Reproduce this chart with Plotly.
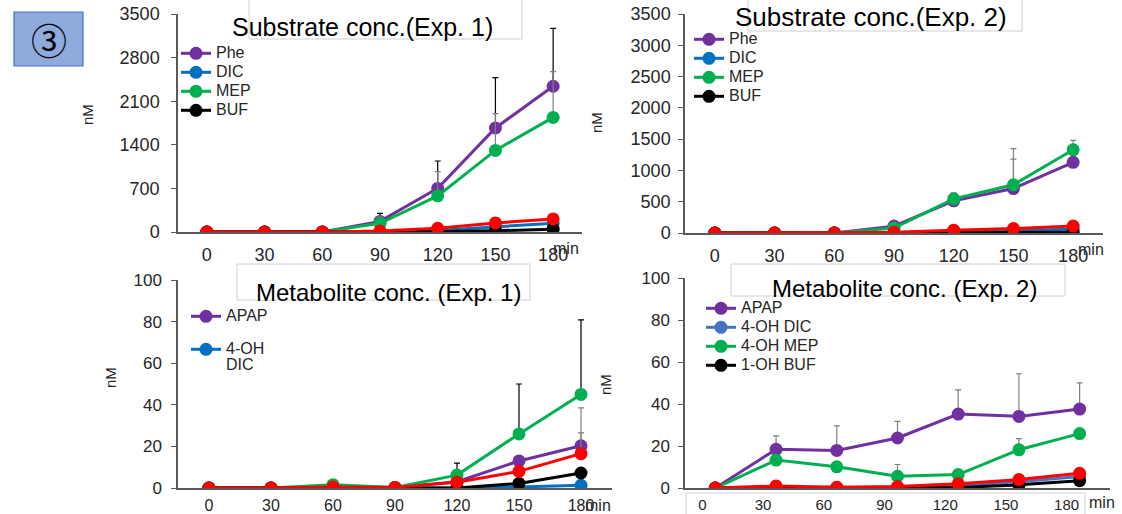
import plotly.graph_objects as go

W, H = 1122, 514

# ---------------- data ----------------
times = [0, 30, 60, 90, 120, 150, 180]
time_labels = ["0", "30", "60", "90", "120", "150", "180"]

# Substrate conc. (Exp. 1)
phe1 = [0, 0, 0, 170, 700, 1670, 2340]
dic1 = [0, 0, 0, 5, 25, 80, 140]
mep1 = [0, 0, 0, 140, 580, 1310, 1840]
buf1 = [0, 0, 0, 0, 8, 20, 45]
red1 = [0, 0, 0, 15, 60, 145, 210]
phe1_err = [0, 0, 0, 130, 440, 810, 930]
mep1_err = [0, 0, 0, 100, 390, 590, 735]

# Substrate conc. (Exp. 2)
phe2 = [0, 0, 0, 110, 515, 710, 1130]
dic2 = [0, 0, 0, 5, 20, 40, 60]
mep2 = [0, 0, 0, 80, 545, 770, 1330]
buf2 = [0, 0, 0, 0, 5, 10, 10]
red2 = [0, 0, 0, 10, 45, 70, 110]
phe2_err = [0, 0, 0, 0, 120, 470, 0]
mep2_err = [0, 0, 0, 0, 95, 580, 150]

# Metabolite conc. (Exp. 1)
apap1 = [0, 0, 0.5, 0.3, 3, 13, 20.3]
ohdic1 = [0, 0, 0, 0, 0, 0.5, 1.3]
ohmep1 = [0, 0, 1.6, 0.3, 6.2, 26, 45]
ohbuf1 = [0, 0, 0, 0, 0, 2.2, 7.2]
red3 = [0, 0, 0.5, 0.3, 2.8, 8, 16.5]
ohmep1_err = [0, 0, 0, 0, 5.8, 24, 35.8]
apap1_err = [0, 0, 0, 0, 0, 0, 18.2]
red3_err = [0, 0, 0, 0, 0, 0, 10]

# Metabolite conc. (Exp. 2)
apap2 = [0, 18.4, 17.9, 23.8, 35.2, 34.1, 37.6]
ohdic2 = [0, 0.3, 0.2, 0.4, 1, 3, 5.5]
ohmep2 = [0, 13.3, 10.1, 5.6, 6.4, 18.2, 25.9]
ohbuf2 = [0, 0, 0, 0, 0.2, 1.5, 3.5]
red4 = [0, 1, 0.3, 0.7, 2, 4, 7]
apap2_err = [0, 6.4, 11.7, 7.9, 11.5, 20.3, 12.5]
ohmep2_err = [0, 0, 0, 5.6, 0, 5.3, 0]

titles = ["Substrate conc.(Exp. 1)", "Substrate conc.(Exp. 2)",
          "Metabolite conc. (Exp. 1)", "Metabolite conc. (Exp. 2)"]

PURPLE = "#7030a0"
BLUE = "#0070c0"
BLUE2 = "#4472c4"
GREEN = "#00b050"
BLACK = "#000000"
RED = "#ff0000"
GRAY = "#808080"
FONT = "Liberation Sans, Arial, sans-serif"
AX = "#595959"


def px(x):
    return x / W


def py(y):
    return 1 - y / H


def big(t):
    return "<br>".join('<span style="font-size:16px">%s</span>' % s for s in t.split("\n"))


fig = go.Figure()


def add(x_ax, y_ax, leg, name, y, color, err=None, errcolor=GRAY, show=True, group=None):
    kw = {}
    if err is not None:
        kw["error_y"] = dict(type="data", array=err, arrayminus=[0] * len(err),
                             symmetric=False, color=errcolor, thickness=1.2, width=3)
    if group is not None:
        kw["legendgroup"] = group
    fig.add_trace(go.Scatter(
        x=times, y=y, name=big(name), mode="lines+markers",
        line=dict(color=color, width=3),
        marker=dict(color=color, size=13),
        xaxis=x_ax, yaxis=y_ax, legend=leg, showlegend=show, **kw))


# panel 1
add("x", "y", "legend", "Phe", phe1, PURPLE, phe1_err, BLACK)
add("x", "y", "legend", "DIC", dic1, BLUE)
add("x", "y", "legend", "MEP", mep1, GREEN, mep1_err, GRAY)
add("x", "y", "legend", "BUF", buf1, BLACK)
add("x", "y", "legend", "red", red1, RED, show=False)
# panel 2
add("x2", "y2", "legend2", "Phe", phe2, PURPLE, phe2_err, GRAY)
add("x2", "y2", "legend2", "DIC", dic2, BLUE)
add("x2", "y2", "legend2", "MEP", mep2, GREEN, mep2_err, GRAY)
add("x2", "y2", "legend2", "BUF", buf2, BLACK)
add("x2", "y2", "legend2", "red", red2, RED, show=False)
# panel 3
add("x3", "y3", "legend3", "APAP", apap1, PURPLE, apap1_err, GRAY, group="a")
add("x3", "y3", "legend3", "4-OH\nDIC", ohdic1, BLUE, group="b")
add("x3", "y3", "legend3", "4-OH MEP", ohmep1, GREEN, ohmep1_err, BLACK, show=False)
add("x3", "y3", "legend3", "1-OH BUF", ohbuf1, BLACK, show=False)
add("x3", "y3", "legend3", "red", red3, RED, red3_err, GRAY, show=False)
# panel 4
add("x4", "y4", "legend4", "APAP", apap2, PURPLE, apap2_err, GRAY)
add("x4", "y4", "legend4", "4-OH DIC", ohdic2, BLUE2)
add("x4", "y4", "legend4", "4-OH MEP", ohmep2, GREEN, ohmep2_err, GRAY)
add("x4", "y4", "legend4", "1-OH BUF", ohbuf2, BLACK)
add("x4", "y4", "legend4", "red", red4, RED, show=False)

# axes geometry (pixels)
panels = [
    dict(xl=178, xr=582, yt=14, yb=232, ymax=3500, dtick=700, fs=18, soy=8, sox=6, shx=0, xfs=18),
    dict(xl=685, xr=1103, yt=14, yb=233, ymax=3500, dtick=500, fs=18, soy=4, sox=6, shx=0, xfs=18),
    dict(xl=178, xr=612, yt=280, yb=488, ymax=100, dtick=20, fs=17, soy=6, sox=2, shx=0, xfs=16),
    dict(xl=685, xr=1110, yt=278, yb=488, ymax=100, dtick=20, fs=17, soy=5, sox=2, shx=-13, xfs=15),
]

lay = {}
for i, p in enumerate(panels):
    s = "" if i == 0 else str(i + 1)
    lay["xaxis" + s] = dict(
        domain=[px(p["xl"]), px(p["xr"])], range=[-15, 195], anchor="y" + s,
        tickvals=times, ticktext=time_labels, ticks="", showgrid=False, zeroline=False,
        showline=True, linecolor=AX, linewidth=1.5, automargin=False,
        tickfont=dict(family=FONT, size=p["xfs"], color="#262626"),
        ticklabelstandoff=p["sox"], ticklabelshift=p["shx"], fixedrange=True)
    lay["yaxis" + s] = dict(
        domain=[py(p["yb"]), py(p["yt"])], range=[0, p["ymax"]], anchor="x" + s,
        dtick=p["dtick"], tick0=0, ticks="outside", ticklen=5, tickcolor=AX,
        showgrid=False, zeroline=False, showline=True, linecolor=AX, linewidth=1.5,
        automargin=False,
        tickfont=dict(family=FONT, size=p["fs"], color="#262626"),
        ticklabelstandoff=p["soy"], fixedrange=True)

legcommon = dict(bgcolor="rgba(0,0,0,0)", font=dict(family=FONT, size=12, color="#262626"),
                 xanchor="left", yanchor="top", itemwidth=30,
                 valign="top", borderwidth=0)
lay["legend"] = dict(x=px(176), y=py(39), tracegroupgap=0, **legcommon)
lay["legend2"] = dict(x=px(689), y=py(25), tracegroupgap=0, **legcommon)
lay["legend3"] = dict(x=px(186), y=py(302), tracegroupgap=14, **legcommon)
lay["legend4"] = dict(x=px(701), y=py(294), tracegroupgap=0, **legcommon)

shapes = [
    dict(type="rect", xref="paper", yref="paper", x0=px(14), x1=px(83), y0=py(66), y1=py(12),
         fillcolor="#8faadc", line=dict(color="#4472c4", width=1.2), layer="above"),
    dict(type="rect", xref="paper", yref="paper", x0=px(249), x1=px(522), y0=py(39), y1=py(-5),
         fillcolor="white", line=dict(color="#d0d0d0", width=1), layer="below"),
    dict(type="rect", xref="paper", yref="paper", x0=px(748), x1=px(1022), y0=py(31), y1=py(-5),
         fillcolor="white", line=dict(color="#d0d0d0", width=1), layer="below"),
    dict(type="rect", xref="paper", yref="paper", x0=px(237), x1=px(530), y0=py(300), y1=py(264),
         fillcolor="white", line=dict(color="#d0d0d0", width=1), layer="below"),
    dict(type="rect", xref="paper", yref="paper", x0=px(731), x1=px(1065), y0=py(296), y1=py(264),
         fillcolor="white", line=dict(color="#d0d0d0", width=1), layer="below"),
    dict(type="rect", xref="paper", yref="paper", x0=px(686), x1=px(1085), y0=py(520), y1=py(493),
         fillcolor="white", line=dict(color="#d0d0d0", width=1), layer="below"),
]

ann = []
title_pos = [(362, 27, 25), (871, 17, 26), (388, 292, 24), (904, 288, 24)]
for t, (x, y, fs) in zip(titles, title_pos):
    ann.append(dict(text=t, x=px(x), y=py(y), xref="paper", yref="paper", showarrow=False,
                    xanchor="center", yanchor="middle",
                    font=dict(family=FONT, size=fs, color="#000000")))
for (x, y) in [(88, 115), (596, 123), (110, 378), (605, 385)]:
    ann.append(dict(text="nM", x=px(x), y=py(y), xref="paper", yref="paper", showarrow=False,
                    textangle=-90, xanchor="center", yanchor="middle",
                    font=dict(family=FONT, size=15, color="#262626")))
for (x, y) in [(566, 248), (1091, 249), (598, 505), (1102, 502)]:
    ann.append(dict(text="min", x=px(x), y=py(y), xref="paper", yref="paper", showarrow=False,
                    xanchor="center", yanchor="middle",
                    font=dict(family=FONT, size=16, color="#262626")))
ann.append(dict(text="③", x=px(48.5), y=py(39), xref="paper", yref="paper", showarrow=False,
                xanchor="center", yanchor="middle",
                font=dict(family="Noto Sans CJK JP", size=36, color="#000000")))

fig.update_layout(
    width=W, height=H, margin=dict(l=0, r=0, t=0, b=0, autoexpand=False),
    paper_bgcolor="white", plot_bgcolor="rgba(0,0,0,0)",
    shapes=shapes, annotations=ann, **lay)

fig.write_html("out.html", config={"displayModeBar": False},
               post_script="document.body.style.margin='0px';document.body.style.padding='0px';")
